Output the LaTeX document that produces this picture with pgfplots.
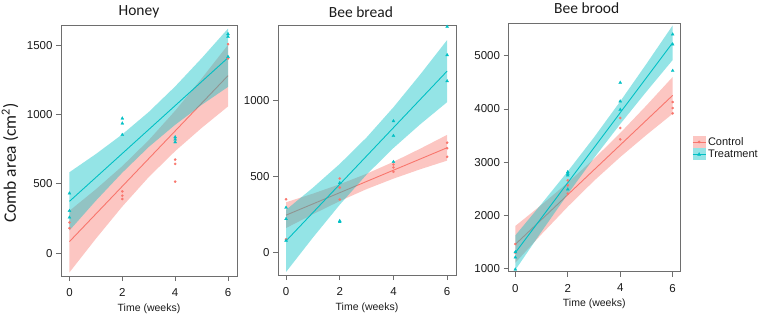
\documentclass[border=0pt]{standalone}
\usepackage{fontspec}
\setmainfont{Liberation Sans}
\newfontfamily\calibri{Carlito}
\usepackage{pgfplots}
\pgfplotsset{compat=1.18}
\definecolor{ctrl}{HTML}{F8766D}
\definecolor{trt}{HTML}{00BFC4}
\definecolor{axgray}{HTML}{6E6E6E}
\definecolor{txtgray}{HTML}{1A1A1A}
\pgfplotsset{
  panel/.style={
    scale only axis,
    axis line style={draw=axgray, line width=0.9pt},
    tick style={draw=axgray, line width=0.8pt},
    tick align=outside, major tick length=5pt,
    xtick pos=bottom, ytick pos=left,
    xtick={0,2,4,6},
    ticklabel style={font=\fontsize{11.5}{13}\selectfont, text=txtgray},
    xticklabel style={yshift=-4pt},
    /pgf/number format/assume math mode=true,
    /pgf/number format/1000 sep={},
    xlabel={Time (weeks)},
    xlabel style={font=\fontsize{10.5}{12}\selectfont, text=txtgray, at={(axis description cs:0.5,0)}, anchor=center, yshift=-32.5pt},
    title style={font=\calibri\fontsize{15.5}{18}\selectfont, text=txtgray, anchor=center, yshift=7pt},
  },
  band/.style={draw=none, fill opacity=0.42, forget plot},
  fitl/.style={line width=0.9pt, forget plot},
  cpts/.style={only marks, color=ctrl, mark=*, mark size=1.2pt, mark options={draw=ctrl, fill=ctrl, line width=0.2pt}, forget plot},
  tpts/.style={only marks, color=trt, mark=triangle*, mark size=1.8pt, mark options={draw=trt, fill=trt, line width=0.2pt}, forget plot},
}
\begin{document}
\begin{tikzpicture}
\path[use as bounding box] (0,0) rectangle (762pt,314pt);
% ---------------- Honey
\begin{axis}[panel, at={(61pt,38pt)}, anchor=south west, width=176pt, height=251pt,
  xmin=-0.32, xmax=6.34, ymin=-164, ymax=1645, ytick={0,500,1000,1500},
  title={Honey}, title style={at={(axis description cs:0.443,1)}},
  ylabel={Comb area (cm\textsuperscript{2})},
  ylabel style={font=\calibri\fontsize{17.5}{20}\selectfont, text=txtgray, at={(axis description cs:-0.29,0.45)}, anchor=center, rotate=0}]
\addplot[band, fill=ctrl] coordinates {(0,306) (1,461) (2,628) (3,815) (4,1027) (5,1259) (6,1502)
  (6,1058) (5,903) (4,736) (3,549) (2,337) (1,105) (0,-138)} -- cycle;
\addplot[fitl, ctrl] coordinates {(0,84) (6,1280)};
\addplot[cpts] coordinates {(0,222) (0,181) (2,446) (2,415) (2,391) (4,675) (4,644) (4,516) (6,1507) (6,1404)};
\addplot[band, fill=trt] coordinates {(0,584) (1,715) (2,857) (3,1018) (4,1202) (5,1405) (6,1619)
  (6,1199) (5,1069) (4,926) (3,766) (2,581) (1,379) (0,164)} -- cycle;
\addplot[fitl, trt] coordinates {(0,374) (6,1409)};
\addplot[tpts] coordinates {(0,432) (0,306) (0,258) (2,972) (2,936) (2,854) (4,837) (4,820) (4,801) (6,1580) (6,1561) (6,1416)};
\end{axis}
% ---------------- Bee bread
\begin{axis}[panel, at={(278pt,39pt)}, anchor=south west, width=178pt, height=250pt,
  xmin=-0.30, xmax=6.33, ymin=-150, ymax=1500, ytick={0,500,1000},
  title={Bee bread}, title style={at={(axis description cs:0.466,1)}}]
\addplot[band, fill=ctrl] coordinates {(0,330) (1,387) (2,449) (3,518) (4,597) (5,684) (6,775)
  (6,605) (5,548) (4,486) (3,417) (2,338) (1,251) (0,160)} -- cycle;
\addplot[fitl, ctrl] coordinates {(0,245) (6,690)};
\addplot[cpts] coordinates {(0,350) (0,86) (2,487) (2,427) (2,348) (4,579) (4,560) (4,531) (6,723) (6,687) (6,630)};
\addplot[band, fill=trt] coordinates {(0,280) (1,426) (2,583) (3,758) (4,957) (5,1174) (6,1401)
  (6,991) (5,845) (4,688) (3,513) (2,314) (1,97) (0,-130)} -- cycle;
\addplot[fitl, trt] coordinates {(0,75) (6,1196)};
\addplot[tpts] coordinates {(0,295) (0,220) (0,77) (2,458) (2,207) (2,200) (4,866) (4,769) (4,597) (6,1489) (6,1302) (6,1130)};
\end{axis}
% ---------------- Bee brood
\begin{axis}[panel, at={(508.5pt,42.5pt)}, anchor=south west, width=171.5pt, height=248.5pt,
  xmin=-0.26, xmax=6.28, ymin=947, ymax=5614, ytick={1000,2000,3000,4000,5000},
  title={Bee brood}, title style={at={(axis description cs:0.456,1)}, yshift=2pt},
  legend style={at={(axis description cs:1.07,0.497)}, anchor=west, draw=none, fill=none,
    font=\fontsize{11}{12}\selectfont, text=txtgray, row sep=-1pt, inner sep=0pt,
    /tikz/every even column/.append style={column sep=2pt}},
  legend cell align=left]
\addplot[band, fill=ctrl] coordinates {(0,1802) (1,2200) (2,2616) (3,3062) (4,3548) (5,4065) (6,4600)
  (6,3910) (5,3512) (4,3096) (3,2650) (2,2164) (1,1647) (0,1112)} -- cycle;
\addplot[fitl, ctrl] coordinates {(0,1457) (6,4255)};
\addplot[cpts] coordinates {(0,1463) (0,1300) (2,2659) (2,2565) (2,2409) (4,3830) (4,3642) (4,3429) (6,4130) (6,4017) (6,3917)};
\addplot[band, fill=trt] coordinates {(0,1625) (1,2218) (2,2828) (3,3466) (4,4142) (5,4847) (6,5569)
  (6,4919) (5,4326) (4,3716) (3,3078) (2,2402) (1,1697) (0,975)} -- cycle;
\addplot[fitl, trt] coordinates {(0,1300) (6,5244)};
\addplot[tpts] coordinates {(0,1313) (0,1213) (0,987) (2,2815) (2,2784) (2,2753) (2,2490) (4,4493) (4,4143) (4,3986) (6,5401) (6,5213) (6,4718)};
\addlegendimage{legend image code/.code={
  \fill[draw=none, fill=ctrl, fill opacity=0.42] (0pt,-6pt) rectangle (13pt,6pt);
  \draw[ctrl, line width=0.8pt] (0pt,0pt) -- (13pt,0pt);
  \fill[ctrl] (6.5pt,0pt) circle (1.2pt);}}
\addlegendentry{Control}
\addlegendimage{legend image code/.code={
  \fill[draw=none, fill=trt, fill opacity=0.42] (0pt,-6pt) rectangle (13pt,6pt);
  \draw[trt, line width=0.8pt] (0pt,0pt) -- (13pt,0pt);
  \fill[trt] (5pt,-1.2pt) -- (8pt,-1.2pt) -- (6.5pt,1.6pt) -- cycle;}}
\addlegendentry{Treatment}
\end{axis}
\end{tikzpicture}
\end{document}
